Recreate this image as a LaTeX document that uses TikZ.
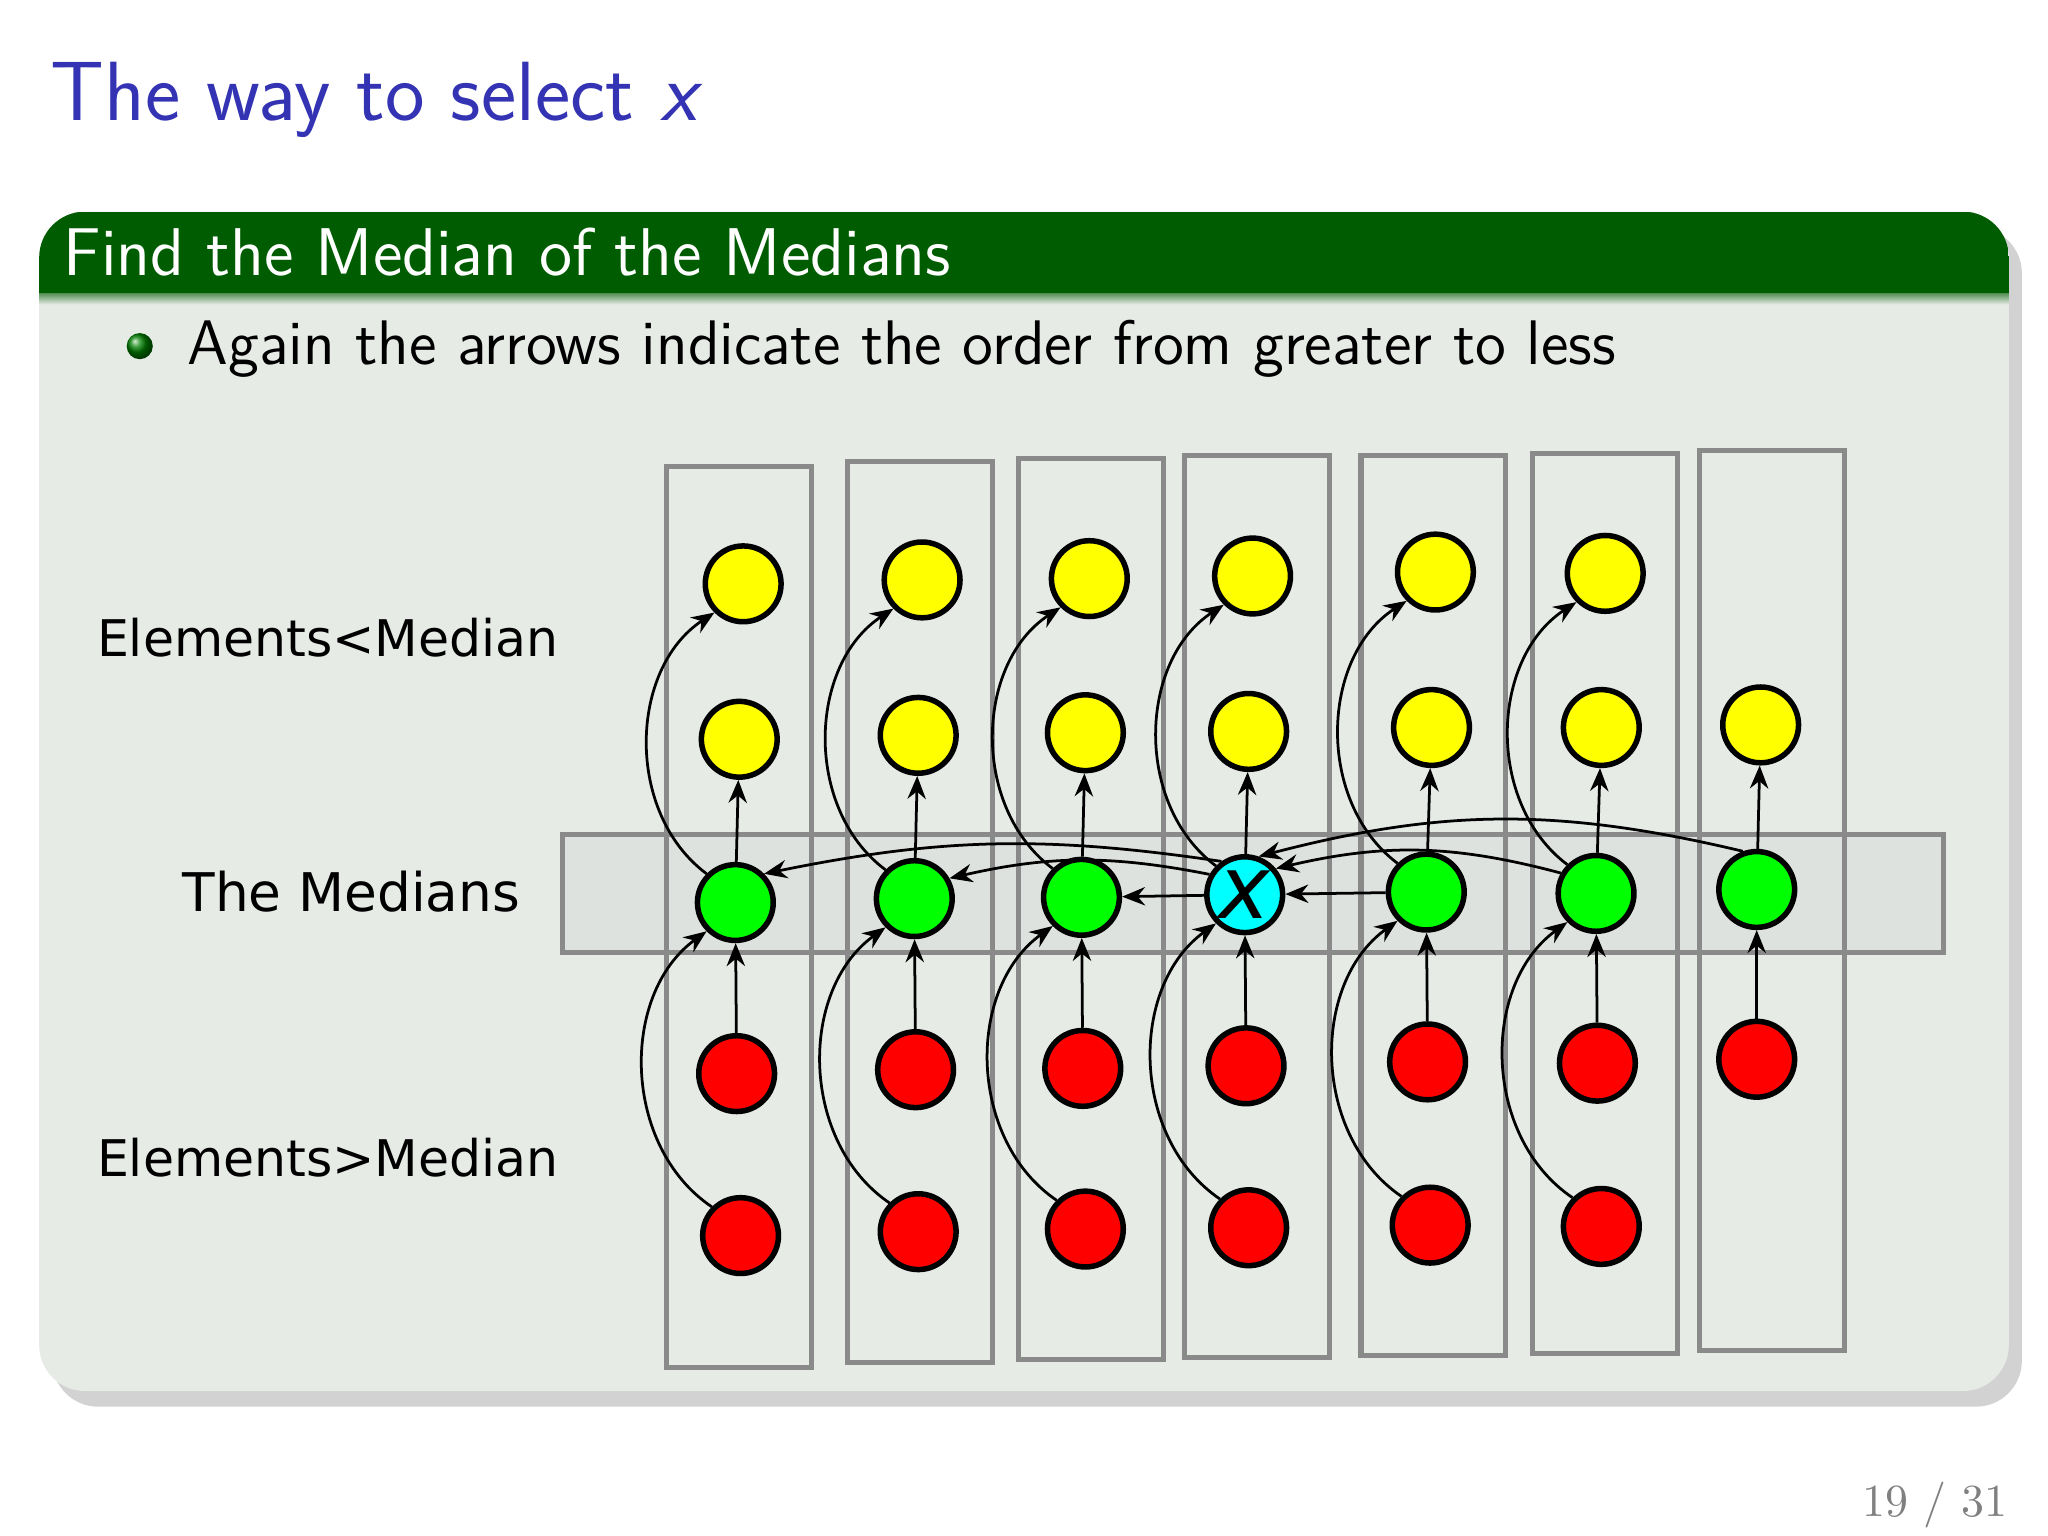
\documentclass[tikz,border=0pt]{standalone}
\usepackage{fontspec}
\newfontfamily\dvs{DejaVu Sans}
\usetikzlibrary{shadows,arrows.meta}
\definecolor{titleblue}{HTML}{3333B3}
\definecolor{hdrgreen}{HTML}{005C00}
\definecolor{bodybg}{HTML}{E6EBE6}
\definecolor{boxgray}{HTML}{8A8A8A}
\definecolor{cyx}{RGB}{0,255,255}
\definecolor{yx}{RGB}{255,255,0}
\definecolor{gx}{RGB}{0,255,0}
\definecolor{rx}{RGB}{255,0,0}
\begin{document}
\begin{tikzpicture}[x=0.01cm,y=-0.01cm,
  dot/.style={circle,draw=black,line width=1.2pt,minimum size=0.58cm,inner sep=0pt},
  yel/.style={dot,fill=yx},
  grn/.style={dot,fill=gx},
  rd/.style={dot,fill=rx},
  cy/.style={dot,fill=cyx},
  arr/.style={-{Stealth[length=5pt,width=4pt]},line width=0.6pt,black},
  colbox/.style={draw=boxgray,line width=1.1pt},
  lbl/.style={font=\dvs\fontsize{11}{15}\selectfont,anchor=base}]
\useasboundingbox (0,0) rectangle (1568,1176);
\fill[white] (0,0) rectangle (1568,1176);
\node[anchor=base west,text=titleblue,font=\sffamily\fontsize{18.3}{20}\selectfont,inner sep=0pt] (title) at (38,92) {The way to select \textit{x}};
% block
\fill[black!35,opacity=0.5,rounded corners=10] (40,174) rectangle (1548,1077);
\fill[bodybg,rounded corners=10] (30,162) rectangle (1538,1065);
\begin{scope}
\clip[rounded corners=10] (30,162) rectangle (1538,1065);
\fill[hdrgreen] (30,162) rectangle (1538,225);
\shade[top color=hdrgreen!60!bodybg,bottom color=bodybg] (30,225) rectangle (1538,233);
\end{scope}
\node[anchor=base west,text=white,font=\sffamily\fontsize{14.7}{18}\selectfont,inner sep=0pt] (bt) at (48,211) {Find the Median of the Medians};
\shade[ball color=green!50!black] (107,265) circle (10);
\node[anchor=base west,font=\sffamily\fontsize{13.7}{16}\selectfont,inner sep=0pt] (bul) at (143,279) {Again the arrows indicate the order from greater to less};
% column boxes
\draw[colbox] (510,357) rectangle (621,1047);
\draw[colbox] (649,353) rectangle (760,1043);
\draw[colbox] (780,351) rectangle (891,1041);
\draw[colbox] (907,349) rectangle (1018,1039);
\draw[colbox] (1042,349) rectangle (1153,1038);
\draw[colbox] (1173,347) rectangle (1284,1036);
\draw[colbox] (1301,345) rectangle (1412,1034);
\draw[colbox,fill=gray,fill opacity=0.08] (431,639) rectangle (1488,729);
% labels
\node[lbl] (l1) at (251,503) {Elements<Median};
\node[lbl,font=\dvs\fontsize{11.6}{15}\selectfont] (l2) at (269,698) {The Medians};
\node[lbl] (l3) at (251,901) {Elements>Median};
% nodes
\foreach \i/\xa/\ya/\xb/\yb/\xc/\yc/\xd/\yd/\xe/\ye in {
 1/569/447/566/566/563/691/564/822/567/946,
 2/706/444/703/563/700/688/701/819/703/943,
 3/834/443/831/561/828/687/829/818/831/941,
 5/1099/438/1096/557/1092/683/1093/813/1095/938,
 6/1229/439/1226/557/1222/684/1223/814/1226/939}{
 \node[yel] (a\i) at (\xa,\ya) {};
 \node[yel] (b\i) at (\xb,\yb) {};
 \node[grn] (c\i) at (\xc,\yc) {};
 \node[rd] (d\i) at (\xd,\yd) {};
 \node[rd] (e\i) at (\xe,\ye) {};
}
\node[yel] (a4) at (959,441) {};
\node[yel] (b4) at (956,560) {};
\node[cy,font=\dvs\fontsize{19}{19}\selectfont\itshape] (c4) at (953,685) {x};
\node[rd] (d4) at (954,816) {};
\node[rd] (e4) at (956,940) {};
\node[yel] (b7) at (1348,555) {};
\node[grn] (c7) at (1345,681) {};
\node[rd] (d7) at (1345,811) {};
% column arrows
\foreach \i in {1,...,6}{
 \draw[arr] (c\i) -- (b\i);
 \draw[arr] (d\i) -- (c\i);
 \draw[arr] (c\i.135) to[bend left=55] (a\i.225);
 \draw[arr] (e\i.135) to[bend left=55] (c\i.225);
}
\draw[arr] (c7) -- (b7);
\draw[arr] (d7) -- (c7);
% median arrows
\draw[arr] (c4) -- (c3);
\draw[arr] (c5) -- (c4);
\draw[arr] (c4.150) to[bend right=12] (c2.30);
\draw[arr] (c4.125) to[bend right=10] (c1.45);
\draw[arr] (c6.150) to[bend right=14] (c4.40);
\draw[arr] (c7.110) to[bend right=14] (c4.70);
% footer
\node[anchor=base east,text=gray,font=\fontsize{10}{12}\selectfont,inner sep=0pt] (pg) at (1538,1161) {19 / 31};
\end{tikzpicture}
\end{document}
